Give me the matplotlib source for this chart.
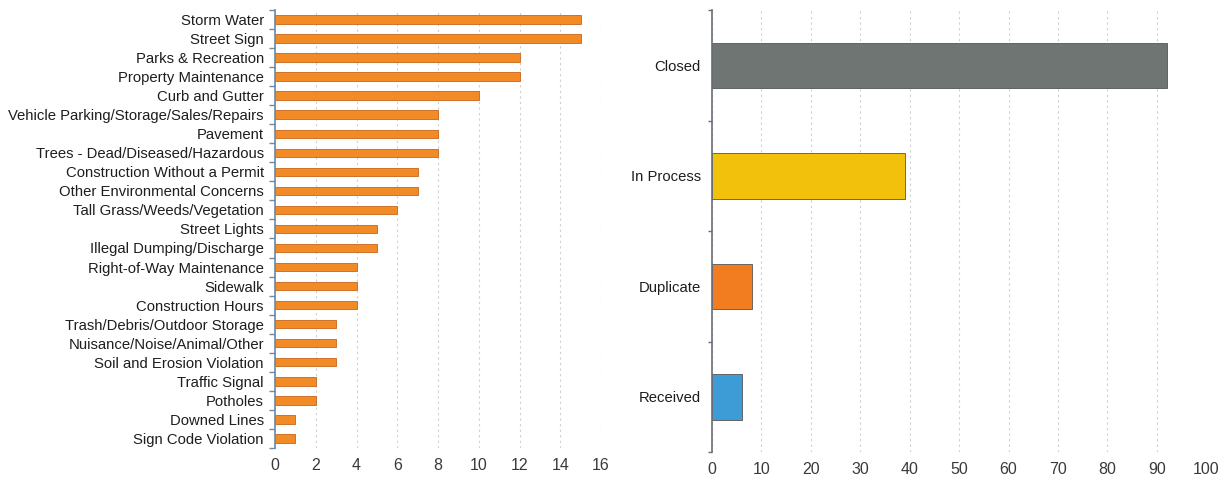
import matplotlib
matplotlib.use('Agg')
import matplotlib.pyplot as plt
import numpy as np

plt.rcParams['font.family'] = ['Liberation Sans', 'DejaVu Sans']

# requests by category
categories = ['Storm Water', 'Street Sign', 'Parks & Recreation', 'Property Maintenance',
              'Curb and Gutter', 'Vehicle Parking/Storage/Sales/Repairs', 'Pavement',
              'Trees - Dead/Diseased/Hazardous', 'Construction Without a Permit',
              'Other Environmental Concerns', 'Tall Grass/Weeds/Vegetation', 'Street Lights',
              'Illegal Dumping/Discharge', 'Right-of-Way Maintenance', 'Sidewalk',
              'Construction Hours', 'Trash/Debris/Outdoor Storage',
              'Nuisance/Noise/Animal/Other', 'Soil and Erosion Violation', 'Traffic Signal',
              'Potholes', 'Downed Lines', 'Sign Code Violation']
counts = [15, 15, 12, 12, 10, 8, 8, 8, 7, 7, 6, 5, 5, 4, 4, 4, 3, 3, 3, 2, 2, 1, 1]
count_ticks = [0, 2, 4, 6, 8, 10, 12, 14, 16]

# requests by status
statuses = ['Closed', 'In Process', 'Duplicate', 'Received']
status_counts = [92, 39, 8, 6]
status_colors = ['#6f7572', '#f2c10c', '#f27d20', '#3d9bd6']
status_ticks = [0, 10, 20, 30, 40, 50, 60, 70, 80, 90, 100]

fig = plt.figure(figsize=(12.28, 4.8), dpi=100)
ax1 = fig.add_axes([0.224, 0.067, 0.2655, 0.912])
ax2 = fig.add_axes([0.5798, 0.058, 0.4025, 0.921])


def style_axis(ax, n, spine_color):
    for side in ['top', 'right', 'bottom']:
        ax.spines[side].set_visible(False)
    ax.spines['left'].set_color(spine_color)
    ax.spines['left'].set_linewidth(1.2)
    ax.set_ylim(n - 0.5, -0.5)
    # category boundary ticks on the y axis
    ax.set_yticks(np.arange(n + 1) - 0.5, minor=True)
    ax.tick_params(axis='y', which='minor', length=4, color=spine_color, width=1)
    ax.tick_params(axis='y', which='major', length=0, pad=8, labelsize=10.7, labelcolor='#1e1e1e')
    ax.tick_params(axis='x', length=0, pad=7, labelsize=11.5, labelcolor='#3a3a3a')
    ax.grid(axis='x', color='#cfcfcf', linestyle=(0, (2, 3)), linewidth=0.8)
    ax.set_axisbelow(True)


y1 = np.arange(len(categories))
ax1.barh(y1, counts, height=0.45, color='#f28a26', edgecolor='#c8651a', linewidth=0.6)
ax1.set_yticks(y1)
ax1.set_yticklabels(categories)
ax1.set_xlim(0, 16)
ax1.set_xticks(count_ticks)
style_axis(ax1, len(categories), '#6b8aa8')

y2 = np.arange(len(statuses))
ax2.barh(y2, status_counts, height=0.41, color=status_colors, edgecolor='#555555', linewidth=0.6)
ax2.set_yticks(y2)
ax2.set_yticklabels(statuses)
ax2.set_xlim(0, 100)
ax2.set_xticks(status_ticks)
style_axis(ax2, len(statuses), '#6a6f78')
ax2.tick_params(axis='y', which='minor', length=3)

fig.savefig('out.png', dpi=100)
